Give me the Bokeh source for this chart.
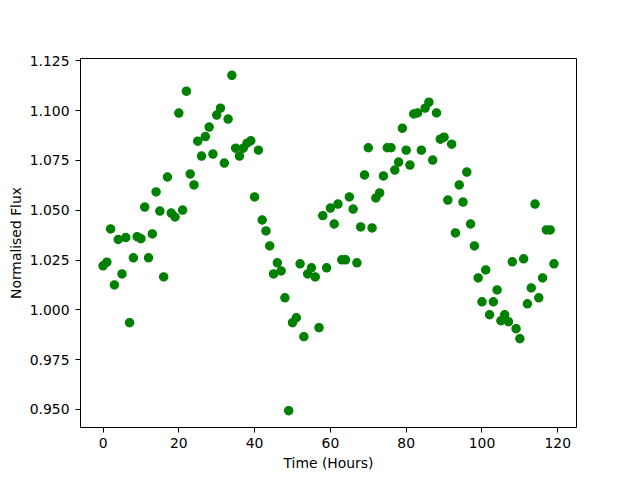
from bokeh.plotting import figure
from bokeh.models import Range1d, FixedTicker, NumeralTickFormatter
from bokeh.embed import file_html
from bokeh.resources import INLINE

hours = list(range(120))
flux = [
    1.0221, 1.0239, 1.0406, 1.0125, 1.0353, 1.0180, 1.0363, 0.9935, 1.0261, 1.0367,
    1.0357, 1.0516, 1.0261, 1.0381, 1.0592, 1.0496, 1.0165, 1.0667, 1.0486, 1.0466,
    1.0988, 1.0501, 1.1098, 1.0682, 1.0627, 1.0847, 1.0772, 1.0870, 1.0918, 1.0782,
    1.0978, 1.1013, 1.0737, 1.0958, 1.1178, 1.0812, 1.0772, 1.0812, 1.0837, 1.0849,
    1.0567, 1.0802, 1.0451, 1.0396, 1.0321, 1.0180, 1.0236, 1.0195, 1.0060, 0.9493,
    0.9935, 0.9960, 1.0231, 0.9865, 1.0180, 1.0211, 1.0165, 0.9910, 1.0473, 1.0211,
    1.0511, 1.0431, 1.0531, 1.0251, 1.0251, 1.0567, 1.0506, 1.0236, 1.0416, 1.0677,
    1.0814, 1.0411, 1.0562, 1.0587, 1.0672, 1.0814, 1.0814, 1.0702, 1.0742, 1.0912,
    1.0802, 1.0727, 1.0984, 1.0989, 1.0802, 1.1013, 1.1043, 1.0752, 1.0989, 1.0857,
    1.0867, 1.0551, 1.0832, 1.0386, 1.0627, 1.0541, 1.0692, 1.0431, 1.0321, 1.0160,
    1.0040, 1.0200, 0.9975, 1.0040, 1.0100, 0.9945, 0.9975, 0.9940, 1.0241, 0.9905,
    0.9855, 1.0256, 1.0030, 1.0110, 1.0531, 1.0060, 1.0160, 1.0401, 1.0401, 1.0231,
]
x_ticks = [0, 20, 40, 60, 80, 100, 120]
y_ticks = [0.950, 0.975, 1.000, 1.025, 1.050, 1.075, 1.100, 1.125]
x_label = "Time (Hours)"
y_label = "Normalised Flux"

def padded(vals, frac=0.05):
    lo, hi = min(vals), max(vals)
    m = (hi - lo) * frac
    return lo - m, hi + m

x0, x1 = padded(hours)
y0, y1 = padded(flux)

p = figure(width=640, height=480, output_backend="svg", toolbar_location=None,
           x_range=Range1d(x0, x1), y_range=Range1d(y0, y1),
           min_border_left=80, min_border_right=64, min_border_top=58, min_border_bottom=53)

p.scatter(hours, flux, size=8.3, fill_color="#008000", line_color="#008000", line_width=1.2)

FONT = "DejaVu Sans"
for ax in (p.xaxis[0], p.yaxis[0]):
    ax.axis_line_color = None
    ax.major_tick_line_color = "black"
    ax.major_tick_line_width = 1
    ax.major_tick_out = 5
    ax.major_tick_in = 0
    ax.minor_tick_line_color = None
    ax.major_label_text_font = FONT
    ax.major_label_text_font_size = "13.9px"
    ax.major_label_text_color = "black"
    ax.axis_label_text_font = FONT
    ax.axis_label_text_font_size = "13.9px"
    ax.axis_label_text_font_style = "normal"
    ax.axis_label_text_color = "black"

p.xaxis[0].major_label_standoff = 5
p.xaxis[0].axis_label_standoff = 4
p.yaxis[0].major_label_standoff = 6
p.yaxis[0].axis_label_standoff = 3

p.xaxis[0].ticker = FixedTicker(ticks=x_ticks)
p.yaxis[0].ticker = FixedTicker(ticks=y_ticks)
p.yaxis[0].formatter = NumeralTickFormatter(format="0.000")
p.xaxis[0].axis_label = x_label
p.yaxis[0].axis_label = y_label

p.xgrid.grid_line_color = None
p.ygrid.grid_line_color = None
p.outline_line_color = "black"
p.outline_line_width = 1
p.outline_line_alpha = 1
p.background_fill_color = "white"
p.border_fill_color = "white"

open("out.html", "w").write(file_html(p, INLINE))
